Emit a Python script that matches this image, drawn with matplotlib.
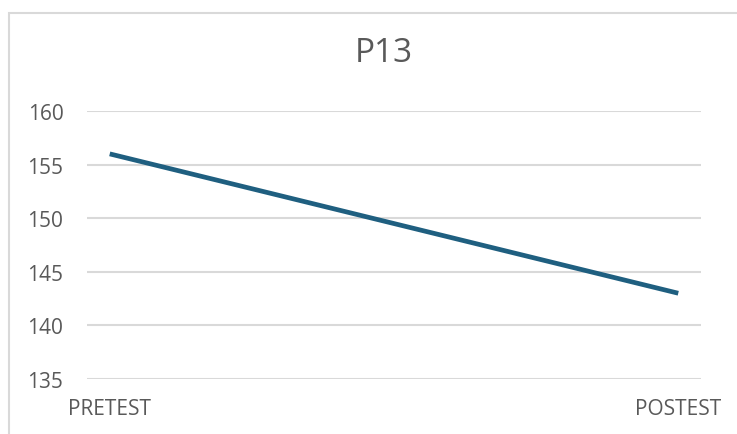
import matplotlib.pyplot as plt
from matplotlib.patches import Rectangle

categories = ["PRETEST", "POSTEST"]
values = [156, 143]
yticks = [135, 140, 145, 150, 155, 160]

fig = plt.figure(figsize=(7.37, 4.35), dpi=100)
plt.rcParams['font.family'] = ['Open Sans', 'DejaVu Sans']

# chart border (only left/top are visible in the crop)
fig.patches.append(Rectangle((9 / 737, -0.1), 1.2, 1 - 14 / 435 + 0.1,
                             transform=fig.transFigure, fill=False,
                             edgecolor='#d9d9d9', linewidth=1.5))

ax = fig.add_axes([87 / 737, 1 - 380 / 435, (701 - 87) / 737, (380 - 112) / 435])
x = list(range(len(categories)))
ax.plot(x, values, color='#1f5f80', linewidth=3.4, solid_capstyle='butt')

ax.set_xlim(-0.04, 1.04)
ax.set_ylim(135, 160)
ax.set_yticks(yticks)
ax.set_yticklabels([str(t) for t in yticks], fontsize=15, color='#595959')
ax.yaxis.grid(True, color='#d9d9d9', linewidth=1.5)
ax.set_axisbelow(True)
ax.tick_params(axis='y', length=0, pad=17)
ax.set_xticks([])
for s in ax.spines.values():
    s.set_visible(False)

for xi, lab in zip(x, categories):
    ax.annotate(lab, xy=(xi, 135), xytext=(0, -21), textcoords='offset points',
                ha='center', va='center', fontsize=15, color='#595959')

fig.text(384 / 737, 1 - 53 / 435, "P13", ha='center', va='center',
         fontsize=24, color='#595959')

fig.savefig("out.png", dpi=100)
